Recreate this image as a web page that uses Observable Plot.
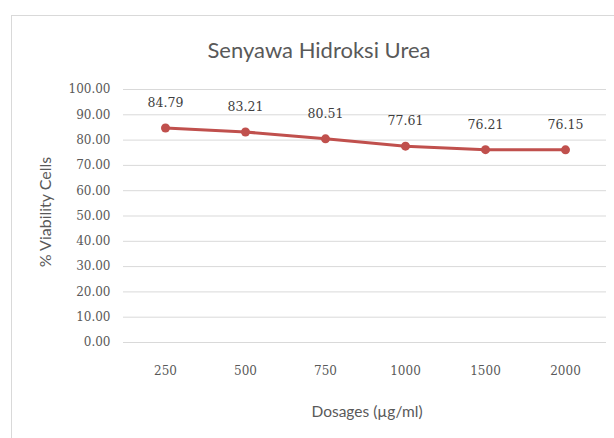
<!DOCTYPE html>
<html>
<head>
<meta charset="utf-8">
<script src="https://cdn.jsdelivr.net/npm/d3@7"></script>
<script src="https://cdn.jsdelivr.net/npm/@observablehq/plot@0.6"></script>
<style>
  html, body { margin: 0; padding: 0; background: #fff; }
  #wrap { position: relative; width: 614px; height: 438px; overflow: hidden; }
  #border { position: absolute; left: 11px; top: 15px; width: 700px; height: 500px; border: 1.5px solid #d9d9d9; box-sizing: border-box; }
  #chart { position: absolute; left: 0; top: 0; }
</style>
</head>
<body>
<div id="wrap"><div id="border"></div><div id="chart"></div></div>
<script>
const dosages = ["250", "500", "750", "1000", "1500", "2000"];
const viability = [84.79, 83.21, 80.51, 77.61, 76.21, 76.15];
const yTicks = [0, 10, 20, 30, 40, 50, 60, 70, 80, 90, 100];
const titleText = "Senyawa Hidroksi Urea";
const xLabel = "Dosages (\u00b5g/ml)";
const yLabel = "% Viability Cells";

const data = dosages.map((d, i) => ({dose: d, v: viability[i]}));
const numFont = "'DejaVu Serif', 'Liberation Serif', serif";
const sansFont = "Lato, 'Open Sans', sans-serif";
const red = "#C0504D";

const chart = Plot.plot({
  width: 614,
  height: 438,
  marginTop: 89,
  marginBottom: 96,
  marginLeft: 123,
  marginRight: 8,
  style: {background: "transparent", overflow: "visible"},
  x: {type: "point", domain: dosages, padding: 0.5, label: null},
  y: {domain: [0, 100], label: null},
  marks: [
    Plot.gridY(yTicks, {stroke: "#d9d9d9", strokeOpacity: 1, strokeWidth: 1}),
    Plot.axisY(yTicks, {tickSize: 0, tickPadding: 13, tickFormat: d => d.toFixed(2),
      fontFamily: numFont, fontSize: 12, fill: "#595959", label: null}),
    Plot.axisX({tickSize: 0, tickPadding: 24, fontFamily: numFont, fontSize: 12, fill: "#595959", label: null}),
    Plot.line(data, {x: "dose", y: "v", stroke: red, strokeWidth: 3}),
    Plot.dot(data, {x: "dose", y: "v", r: 4.5, fill: red, stroke: "none"}),
    Plot.text(data, {x: "dose", y: "v", text: d => d.v.toFixed(2), dy: -25,
      fontFamily: numFont, fontSize: 12.5, fill: "#404040"}),
    Plot.text([titleText], {frameAnchor: "top", dx: -46, dy: -39, textAnchor: "middle", lineAnchor: "middle",
      fontFamily: sansFont, fontWeight: 400, fontSize: 22, fill: "#595959"}),
    Plot.text([xLabel], {frameAnchor: "bottom", dx: 2, dy: 70, textAnchor: "middle", lineAnchor: "middle",
      fontFamily: sansFont, fontSize: 15.5, fill: "#595959"}),
    Plot.text([yLabel], {frameAnchor: "left", dx: -78, dy: -4, rotate: -90, textAnchor: "middle", lineAnchor: "middle",
      fontFamily: sansFont, fontSize: 16, fill: "#595959"})
  ]
});
document.getElementById("chart").appendChild(chart);
</script>
</body>
</html>
